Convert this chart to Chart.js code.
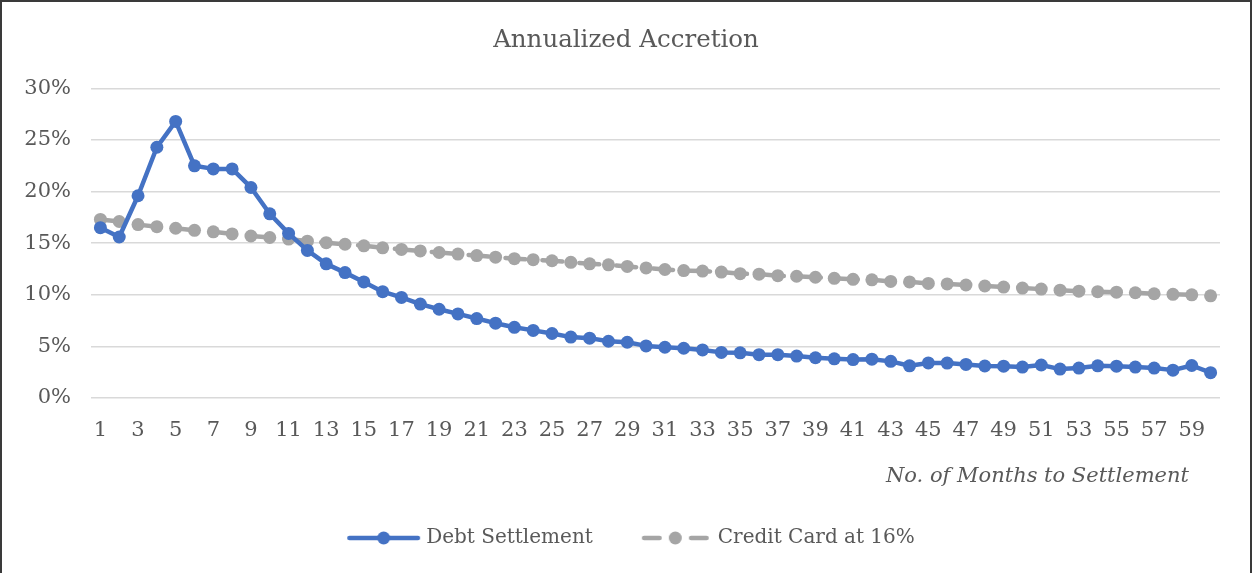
<!DOCTYPE html>
<html>
<head>
<meta charset="utf-8">
<script src="https://cdn.jsdelivr.net/npm/chart.js@4.4.0/dist/chart.umd.min.js"></script>
<style>
    html, body { margin: 0; padding: 0; background: #fff; }
    #wrap {
        position: relative;
        width: 1252px;
        height: 573px;
        box-sizing: border-box;
        border: 2px solid #3a3a3a;
        border-bottom: none;
        overflow: hidden;
    }
    #chart { display: block; }
</style>
</head>
<body>
<div id="wrap"><canvas id="chart" width="1248" height="571"></canvas></div>
<script>
// Annualized Accretion - Debt Settlement vs Credit Card
const months = [];
for (let m = 1; m <= 60; m++) months.push(String(m));

const debtSettlement = [
    16.5, 15.6, 19.6, 24.3, 26.8, 22.5, 22.2, 22.2, 20.4, 17.85,
    15.95, 14.3, 13.0, 12.15, 11.25, 10.3, 9.75, 9.1, 8.6, 8.15,
    7.7, 7.25, 6.85, 6.55, 6.25, 5.9, 5.8, 5.5, 5.4, 5.05,
    4.92, 4.82, 4.66, 4.42, 4.38, 4.2, 4.2, 4.06, 3.9, 3.8,
    3.72, 3.76, 3.55, 3.12, 3.4, 3.38, 3.25, 3.1, 3.08, 3.0,
    3.2, 2.8, 2.9, 3.12, 3.08, 3.0, 2.9, 2.7, 3.15, 2.45
];

const creditCard = [
    17.3, 17.1, 16.8, 16.6, 16.45, 16.25, 16.1, 15.9, 15.7, 15.55,
    15.4, 15.2, 15.05, 14.9, 14.75, 14.55, 14.4, 14.25, 14.1, 13.95,
    13.8, 13.65, 13.5, 13.4, 13.3, 13.15, 13.0, 12.9, 12.75, 12.6,
    12.45, 12.35, 12.3, 12.2, 12.05, 12.0, 11.85, 11.8, 11.7, 11.6,
    11.5, 11.45, 11.3, 11.25, 11.1, 11.05, 10.95, 10.85, 10.75, 10.65,
    10.55, 10.45, 10.35, 10.3, 10.25, 10.2, 10.1, 10.05, 10.0, 9.9
];

const yTicks = [0, 5, 10, 15, 20, 25, 30];
const xTitle = 'No. of Months to Settlement';

const BLUE = '#4472C4';
const GRAY = '#A5A5A5';
const TEXT = '#595959';
const FONT = "'DejaVu Serif', serif";

// Legend marker: a short line with a dot in the middle (Excel style).
// Image is a bit wider than the legend box so the line runs close to the text.
function legendMarker(color, dashed) {
    const c = document.createElement('canvas');
    c.width = 89;
    c.height = 16;
    const g = c.getContext('2d');
    g.strokeStyle = color;
    g.fillStyle = color;
    g.lineWidth = 4.5;
    g.lineCap = 'round';
    g.beginPath();
    if (dashed) {
        g.moveTo(20.25, 8); g.lineTo(35.75, 8);
        g.moveTo(67.25, 8); g.lineTo(82.75, 8);
    } else {
        g.moveTo(17.25, 8); g.lineTo(85.75, 8);
    }
    g.stroke();
    g.beginPath();
    g.arc(51.5, 8, 6.5, 0, Math.PI * 2);
    g.fill();
    return c;
}

const markers = [legendMarker(BLUE, false), legendMarker(GRAY, true)];

// Axis title sits a bit left of the plot's right edge, as in the original
const axisTitlePlugin = {
    id: 'axisTitle',
    afterDraw(chart) {
        const { ctx, chartArea } = chart;
        ctx.save();
        ctx.font = "italic 21px 'DejaVu Serif', serif";
        ctx.fillStyle = TEXT;
        ctx.textAlign = 'right';
        ctx.textBaseline = 'middle';
        ctx.fillText(xTitle, chartArea.right - 31, chartArea.bottom + 79);
        ctx.restore();
    }
};

const ctx = document.getElementById('chart').getContext('2d');
new Chart(ctx, {
    type: 'line',
    data: {
        labels: months,
        datasets: [{
            label: 'Debt Settlement',
            data: debtSettlement,
            borderColor: BLUE,
            backgroundColor: BLUE,
            borderWidth: 4.5,
            borderCapStyle: 'round',
            borderJoinStyle: 'round',
            pointRadius: 6.5,
            pointBorderWidth: 0,
            pointBackgroundColor: BLUE,
            tension: 0
        }, {
            label: 'Credit Card at 16%',
            data: creditCard,
            borderColor: GRAY,
            backgroundColor: GRAY,
            borderWidth: 4.5,
            borderDash: [20, 17],
            borderCapStyle: 'round',
            pointRadius: 6.5,
            pointBorderWidth: 0,
            pointBackgroundColor: GRAY,
            tension: 0
        }]
    },
    plugins: [axisTitlePlugin],
    options: {
        responsive: false,
        animation: false,
        layout: { padding: { left: 0, right: 0, top: 0, bottom: 15 } },
        scales: {
            x: {
                offset: true,
                afterFit: function(scale) { scale.height = 94; },
                grid: { display: false },
                border: { display: false },
                ticks: {
                    autoSkip: false,
                    maxRotation: 0,
                    padding: 12,
                    color: TEXT,
                    font: { family: FONT, size: 21 },
                    callback: function(val, i) {
                        return i % 2 === 0 ? this.getLabelForValue(val) : '';
                    }
                }
            },
            y: {
                min: 0,
                max: 30,
                afterFit: function(scale) { scale.width = 89; },
                afterBuildTicks: function(scale) {
                    scale.ticks = yTicks.map(v => ({ value: v }));
                },
                grid: { color: '#D9D9D9', lineWidth: 1.5, drawTicks: false },
                border: { display: false },
                ticks: {
                    padding: 20,
                    color: TEXT,
                    font: { family: FONT, size: 21 },
                    callback: v => v + '%'
                }
            },
            // empty right axis, only keeps the plot clear of the right edge
            yRight: {
                position: 'right',
                afterFit: function(scale) { scale.width = 30; },
                grid: { display: false },
                border: { display: false },
                ticks: { display: false }
            }
        },
        plugins: {
            title: {
                display: true,
                text: 'Annualized Accretion',
                color: TEXT,
                font: { family: FONT, size: 24.5, weight: 'normal' },
                padding: { top: 24, bottom: 33 }
            },
            legend: {
                position: 'bottom',
                labels: {
                    usePointStyle: true,
                    pointStyleWidth: 79,
                    padding: 36,
                    color: TEXT,
                    font: { family: FONT, size: 20 },
                    generateLabels: function(chart) {
                        return chart.data.datasets.map((ds, i) => ({
                            text: ds.label,
                            pointStyle: markers[i],
                            fillStyle: ds.borderColor,
                            strokeStyle: ds.borderColor,
                            lineWidth: 0,
                            fontColor: TEXT,
                            hidden: false,
                            datasetIndex: i
                        }));
                    }
                }
            },
            tooltip: { enabled: false }
        }
    }
});
</script>
</body>
</html>
